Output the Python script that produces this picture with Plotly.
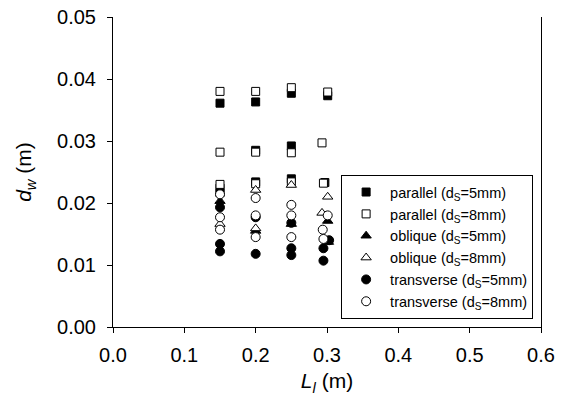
import plotly.graph_objects as go

# ---- data ----
par5_x = [0.15, 0.15, 0.15, 0.2, 0.2, 0.2, 0.25, 0.25, 0.25, 0.301, 0.297]
par5_y = [0.0361, 0.0224, 0.0217, 0.0363, 0.0285, 0.0234, 0.0377, 0.0292, 0.0239, 0.0373, 0.0233]

par8_x = [0.15, 0.15, 0.15, 0.2, 0.2, 0.2, 0.25, 0.25, 0.25, 0.301, 0.293, 0.295]
par8_y = [0.0380, 0.0282, 0.0230, 0.0380, 0.0282, 0.0231, 0.0386, 0.0281, 0.0234, 0.0379, 0.0297, 0.0232]

obl5_x = [0.15, 0.2, 0.25, 0.301, 0.302]
obl5_y = [0.0203, 0.0155, 0.0166, 0.0171, 0.0137]

obl8_x = [0.15, 0.2, 0.2, 0.25, 0.301, 0.293]
obl8_y = [0.0166, 0.0221, 0.0159, 0.0229, 0.0210, 0.0184]

tra5_x = [0.15, 0.15, 0.15, 0.2, 0.2, 0.25, 0.25, 0.25, 0.303, 0.295, 0.295]
tra5_y = [0.0193, 0.0134, 0.0122, 0.0177, 0.0118, 0.0168, 0.0127, 0.0116, 0.0140, 0.0127, 0.0107]

tra8_x = [0.15, 0.15, 0.15, 0.2, 0.2, 0.2, 0.25, 0.25, 0.25, 0.301, 0.294, 0.295]
tra8_y = [0.0214, 0.0177, 0.0157, 0.0208, 0.0180, 0.0145, 0.0197, 0.0180, 0.0145, 0.0180, 0.0157, 0.0142]

series_names = [
    "parallel (d<sub>S</sub>=5mm)",
    "parallel (d<sub>S</sub>=8mm)",
    "oblique (d<sub>S</sub>=5mm)",
    "oblique (d<sub>S</sub>=8mm)",
    "transverse (d<sub>S</sub>=5mm)",
    "transverse (d<sub>S</sub>=8mm)",
]

x_ticks = [0.0, 0.1, 0.2, 0.3, 0.4, 0.5, 0.6]
y_ticks = [0.00, 0.01, 0.02, 0.03, 0.04, 0.05]

# ---- figure ----
series = [
    (par5_x, par5_y, "square", "black", 8),
    (par8_x, par8_y, "square", "white", 8),
    (obl5_x, obl5_y, "triangle-up", "black", 9),
    (obl8_x, obl8_y, "triangle-up", "white", 9),
    (tra5_x, tra5_y, "circle", "black", 9),
    (tra8_x, tra8_y, "circle", "white", 9),
]

fig = go.Figure()
for i, (xs, ys, sym, fill, size) in enumerate(series):
    fig.add_trace(go.Scatter(
        x=xs, y=ys, mode="markers", name=series_names[i],
        legendgroup=f"g{i}",
        marker=dict(symbol=sym, color=fill, size=size,
                    line=dict(color="black", width=1)),
    ))

font_family = "Liberation Sans, Arial, sans-serif"
fig.update_layout(
    width=567, height=405,
    margin=dict(l=105, r=34, t=9, b=86),
    paper_bgcolor="white", plot_bgcolor="white",
    font=dict(family=font_family, color="black"),
    showlegend=True,
    legend=dict(
        x=0.533, y=0.49, xanchor="left", yanchor="top",
        bordercolor="black", borderwidth=1, bgcolor="white",
        font=dict(size=14.5, family=font_family, color="black"),
        itemwidth=38, tracegroupgap=0, traceorder="normal",
    ),
)
fig.update_xaxes(
    range=[0, 0.6], tickvals=x_ticks, tickformat=".1f",
    ticks="outside", ticklen=5, tickcolor="black",
    showline=True, linecolor="black", linewidth=1,
    showgrid=False, zeroline=False, automargin=False,
    tickfont=dict(size=20), ticklabelstandoff=5, ticklabeloverflow="allow",
    title=dict(text="<i>L</i><sub><i>l</i></sub> (m)", font=dict(size=21), standoff=8),
)
fig.update_yaxes(
    range=[0, 0.05], tickvals=y_ticks, tickformat=".2f",
    ticks="outside", ticklen=5, tickcolor="black",
    showline=True, linecolor="black", linewidth=1, mirror=True,
    showgrid=False, zeroline=False, automargin=False,
    tickfont=dict(size=20), ticklabelstandoff=7, ticklabeloverflow="allow",
    title=dict(text="<i>d</i><sub><i>w</i></sub> (m)", font=dict(size=21), standoff=19),
)

fig.write_html("out.html")
